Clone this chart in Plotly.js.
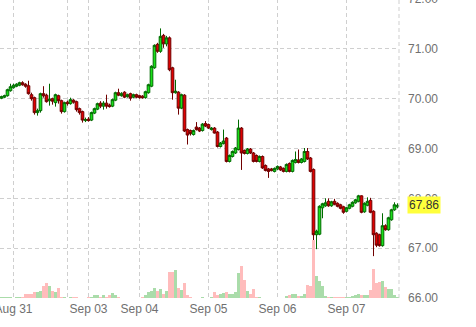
<!DOCTYPE html>
<html>
<head>
<meta charset="utf-8">
<script src="https://cdn.plot.ly/plotly-3.0.1.min.js"></script>
<style>
html,body{margin:0;padding:0;overflow:hidden;background:#fff;width:476px;height:327px;}
#chart{position:absolute;left:0;top:-1px;width:476px;height:330px;}
</style>
</head>
<body>
<div id="chart"></div>
<script>
// Hourly bars, index 0..132
var opens = [
70.01,70.03,70.06,70.16,70.22,70.25,70.27,70.32,70.29,70.26,
70.08,70.02,69.72,69.76,70.10,70.07,69.96,70.00,69.92,70.06,
69.96,69.74,69.93,69.90,69.97,69.94,69.80,69.74,69.56,69.59,
69.57,69.71,69.79,69.91,69.85,69.91,69.87,69.85,69.97,70.12,
70.06,70.13,70.04,70.10,70.03,70.08,70.06,70.05,70.02,70.12,
70.25,70.62,71.09,70.95,71.27,71.10,71.22,70.62,70.12,70.13,
69.81,70.07,69.38,69.36,69.28,69.43,69.41,69.36,69.50,69.48,
69.38,69.41,69.33,69.04,69.10,69.21,68.74,68.84,68.91,68.98,
69.41,68.96,68.90,68.99,68.91,68.86,68.74,68.84,68.66,68.59,
68.59,68.54,68.59,68.63,68.60,68.54,68.70,68.54,68.72,68.77,
68.72,68.74,68.94,68.81,68.58,67.27,67.28,67.81,67.85,67.94,
67.85,67.94,67.90,67.87,67.83,67.74,67.80,67.84,67.91,67.94,
68.05,67.73,67.86,67.96,67.74,67.30,67.27,67.05,67.45,67.37,
67.57,67.77,67.83];
var highs = [
70.06,70.08,70.20,70.30,70.30,70.31,70.34,70.35,70.31,70.36,
70.12,70.04,69.80,70.12,70.25,70.10,70.30,70.02,70.10,70.08,
69.98,69.94,69.96,70.02,69.99,69.96,69.82,69.76,69.62,69.63,
69.74,69.82,69.92,69.95,69.95,70.08,69.90,70.00,70.14,70.20,
70.13,70.15,70.10,70.12,70.10,70.10,70.08,70.07,70.16,70.30,
70.67,71.09,71.12,71.41,71.30,71.26,71.25,70.64,70.38,70.15,
70.10,70.09,69.40,69.38,69.38,69.53,69.43,69.51,69.55,69.50,
69.43,69.43,69.35,69.13,69.38,69.23,68.88,68.96,69.03,69.58,
69.43,68.98,69.01,69.01,68.93,68.88,68.86,68.86,68.68,68.61,
68.61,68.62,68.66,68.65,68.62,68.70,68.72,68.78,68.94,68.98,
68.81,69.01,69.01,68.83,68.60,67.37,67.86,67.91,68.00,68.00,
67.95,67.99,67.92,67.89,67.85,67.83,67.89,67.94,67.99,68.07,
68.06,67.92,68.02,68.01,67.76,67.32,67.29,67.70,67.48,67.63,
67.79,67.92,67.90];
var lows = [
69.99,70.01,70.04,70.14,70.20,70.23,70.25,70.26,70.22,70.08,
69.96,69.68,69.66,69.72,70.02,69.92,69.86,69.88,69.84,69.90,
69.70,69.72,69.86,69.88,69.90,69.74,69.68,69.52,69.53,69.54,
69.55,69.69,69.77,69.81,69.78,69.80,69.82,69.83,69.95,70.05,
70.04,70.01,70.02,69.96,70.01,70.01,70.00,70.00,70.00,70.10,
70.23,70.60,70.92,70.92,71.02,71.05,70.55,69.98,70.10,69.68,
69.79,69.33,69.08,69.26,69.26,69.36,69.33,69.34,69.43,69.39,
69.36,69.30,69.02,69.02,69.08,68.72,68.72,68.82,68.89,68.96,
68.57,68.88,68.88,68.89,68.72,68.72,68.72,68.59,68.54,68.41,
68.54,68.52,68.57,68.55,68.52,68.52,68.52,68.52,68.70,68.70,
68.70,68.72,68.77,68.52,67.12,66.98,67.26,67.60,67.83,67.83,
67.83,67.86,67.82,67.78,67.69,67.72,67.78,67.82,67.89,67.92,
67.70,67.71,67.84,67.70,66.84,67.02,67.03,67.03,67.35,67.35,
67.55,67.75,67.80];
var closes = [
70.04,70.06,70.18,70.24,70.27,70.29,70.32,70.28,70.25,70.10,
70.00,69.72,69.76,70.10,70.06,69.94,69.99,69.95,70.08,69.96,
69.74,69.92,69.90,69.98,69.93,69.78,69.72,69.57,69.58,69.56,
69.72,69.80,69.90,69.85,69.91,69.85,69.84,69.98,70.12,70.07,
70.10,70.03,70.08,70.01,70.08,70.03,70.02,70.02,70.14,70.28,
70.65,71.07,70.95,71.25,71.10,71.22,70.58,70.12,70.15,69.81,
70.08,69.35,69.27,69.30,69.36,69.38,69.35,69.49,69.45,69.41,
69.41,69.31,69.04,69.11,69.15,68.74,68.86,68.94,69.01,69.41,
68.91,68.90,68.99,68.91,68.74,68.74,68.84,68.61,68.56,68.54,
68.56,68.60,68.64,68.57,68.54,68.68,68.54,68.76,68.78,68.72,
68.79,68.94,68.79,68.54,67.27,67.34,67.84,67.89,67.91,67.85,
67.93,67.88,67.84,67.80,67.72,67.81,67.87,67.92,67.97,68.05,
67.72,67.90,67.94,67.72,67.27,67.06,67.05,67.45,67.37,67.61,
67.77,67.87,67.86];
var volumes = [
70,70,70,70,30,70,70,70,430,430,
430,600,600,700,1200,1500,1200,700,600,1000,
100,70,30,70,70,70,30,30,30,100,
150,300,300,150,300,150,300,500,300,100,
50,30,30,30,30,30,50,150,300,600,
700,1000,700,900,400,700,2600,2600,2800,1000,
800,1500,300,100,50,30,50,100,50,50,
100,600,300,400,500,600,400,400,600,2500,
3200,1800,700,400,900,150,100,30,30,30,
30,30,30,50,50,200,300,400,400,200,
200,400,1300,1200,5800,2200,1700,1200,200,70,
70,70,70,70,70,70,70,200,300,400,
300,300,300,800,2900,1500,1600,1700,1100,900,
900,300,100];
var tickVals = [4, 22, 29, 46, 69, 92, 115];
var tickText = ["Aug 31", "", "Sep 03", "Sep 04", "Sep 05", "Sep 06", "Sep 07"];
var priceTicks = [66, 67, 68, 69, 70, 71, 72];

var idx = closes.map(function(_, i){ return i; });
var volColors = closes.map(function(c, i){ return c >= opens[i] ? '#aadcaa' : '#ffbcbc'; });
var lastClose = closes[closes.length - 1];

var volTrace = {
  type: 'bar', x: idx, y: volumes, yaxis: 'y2',
  marker: {color: volColors, line: {width: 0}},
  hoverinfo: 'skip'
};
var candle = {
  type: 'candlestick', x: idx, open: opens, high: highs, low: lows, close: closes,
  increasing: {line: {color: '#006a00', width: 1}, fillcolor: '#18e018'},
  decreasing: {line: {color: '#700000', width: 1}, fillcolor: '#e00000'},
  whiskerwidth: 0, hoverinfo: 'skip'
};

var gridDash = '4px,3px';
var tickFont = {family: 'Liberation Sans, Arial, sans-serif', size: 12, color: '#707070'};
var layout = {
  width: 476, height: 330,
  margin: {l: 0, r: 77, t: 0, b: 31, pad: 0},
  paper_bgcolor: '#ffffff', plot_bgcolor: '#ffffff',
  showlegend: false, hovermode: false,
  bargap: 0, boxgap: 0.12, boxgroupgap: 0,
  xaxis: {
    type: 'linear', range: [-0.5, closes.length - 0.5],
    tickmode: 'array', tickvals: tickVals, ticktext: tickText,
    showgrid: true, gridcolor: '#cfcfcf', gridwidth: 1, griddash: gridDash,
    zeroline: false, showline: false, ticks: '',
    tickfont: tickFont, ticklabelstandoff: 2, ticklabeloverflow: 'allow',
    rangeslider: {visible: false}, fixedrange: true
  },
  yaxis: {
    side: 'right', range: [66, 72],
    tickmode: 'array', tickvals: priceTicks,
    ticktext: priceTicks.map(function(v){ return v.toFixed(2); }),
    showgrid: true, gridcolor: '#cfcfcf', gridwidth: 1, griddash: gridDash,
    zeroline: false, showline: false, ticks: '',
    tickfont: tickFont, ticklabelstandoff: 8, ticklabeloverflow: 'allow', fixedrange: true
  },
  yaxis2: {
    overlaying: 'y', range: [0, 29900], visible: false, fixedrange: true
  },
  shapes: [{
    type: 'line', xref: 'paper', yref: 'paper', x0: 1, x1: 1, y0: 0, y1: 1,
    line: {color: '#cfcfcf', width: 1, dash: gridDash}
  }],
  annotations: [{
    xref: 'paper', yref: 'y', x: 1, y: lastClose, xanchor: 'left', yanchor: 'middle',
    xshift: 8, showarrow: false, text: lastClose.toFixed(2),
    bgcolor: '#ffff3c', borderpad: 1,
    font: {family: 'Liberation Sans, Arial, sans-serif', size: 12, color: '#333333'}
  }]
};
Plotly.newPlot('chart', [volTrace, candle], layout, {staticPlot: true, displayModeBar: false});
</script>
</body>
</html>
